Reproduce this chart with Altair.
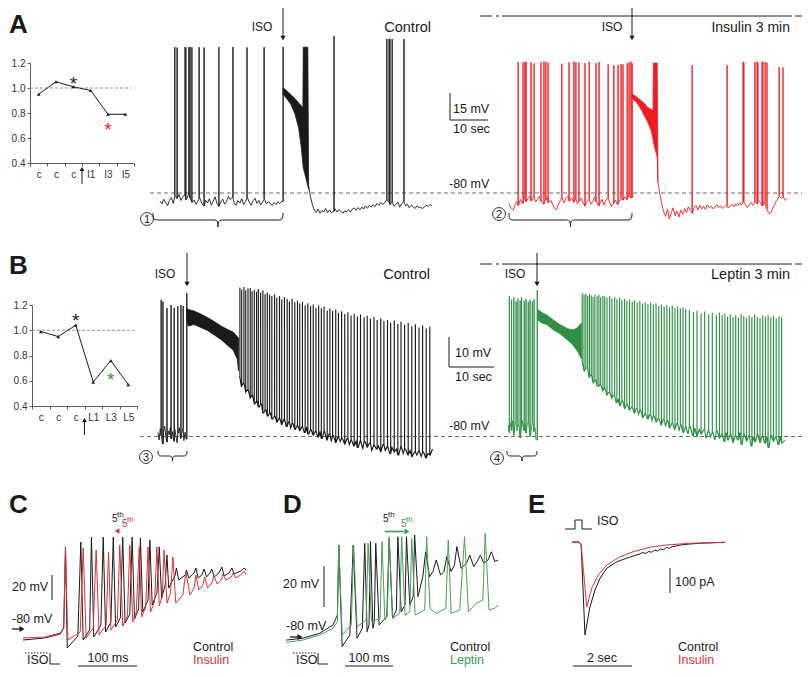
import altair as alt
import numpy as np
import pandas as pd

OX, OY = 8, 8
W, H = 794, 661
FONT = "Liberation Sans"
INK = "#1a1a1a"
RED = "#ee1d23"
RED_C = "#d8343c"
GREEN = "#2e8f45"
GREEN_D = "#4a9e5c"
GREEN_T = "#3a9a52"

# ======================= DATA =======================
# --- summary plots (normalised values) ---
sumA_cats = ["c1", "c2", "c3", "I1", "I3", "I5"]
sumA_vals = [0.95, 1.05, 1.01, 0.98, 0.79, 0.79]
starA_cats = ["c3", "I3"]
starA_vals = [1.076, 0.704]
sumB_cats = ["c1", "c2", "c3", "L1", "L3", "L5"]
sumB_vals = [0.99, 0.95, 1.04, 0.59, 0.76, 0.57]
starB_cats = ["c3", "L3"]
starB_vals = [1.113, 0.645]

# --- A, control trace (s, mV) ---
actl_pre = [-84.5, -86.0, -83.5, -85.2, -87.0, -84.1, -82.6, -85.8, -81.5, -83.0,
            -80.8, -84.2, -82.0, -81.2, -83.6, -80.5, -82.8, -85.1, -83.9, -86.3,
            -84.4, -82.9, -85.7, -87.2, -84.0, -85.5, -83.2, -86.8, -84.6, -82.1,
            -85.9, -87.4, -85.0, -83.4, -86.2, -84.8, -81.9, -83.7, -82.4, -85.3,
            -86.9, -84.2, -85.6, -83.1, -86.5, -84.7, -82.6, -85.2, -86.8, -84.3,
            -82.9, -85.8, -84.1, -86.6, -85.0, -83.5, -86.1, -84.9, -85.7, -87.0,
            -85.3, -86.4, -84.8, -85.9, -84.6]
actl_pre_spk_t = [3.9, 4.5, 6.6, 6.8, 7.6, 7.9, 8.4, 10.3, 11.6, 15.5, 19.2, 22.9, 27.4, 32.4]
actl_pre_spk_v = [1.0, 0.8, 1.1, 0.9, 1.0, 1.1, 0.9, 1.0, 0.8, 1.0, 1.1, 0.9, 1.0, 1.2]
actl_band_t = [32.4, 33.5, 34.5, 35.5, 36.5, 37.2, 37.6, 37.7, 38.9, 39.1]
actl_band_hi = [-21.5, -23.5, -25.5, -27.5, -30.0, -31.5, -33.0, 1.0, 1.0, -72.0]
actl_band_lo = [-25.0, -28.0, -31.0, -36.0, -44.0, -55.0, -64.0, -66.0, -76.0, -78.0]
actl_post = [-76.0, -82.0, -86.5, -89.5, -90.8, -88.9, -91.2, -89.7, -90.5, -88.6,
             -90.9, -89.4, -91.0, -90.2, -88.8, -90.6, -89.3, -90.1, -91.3, -89.9,
             -90.4, -89.2, -90.7, -89.0, -88.3, -89.6, -88.1, -89.4, -87.8, -88.9,
             -87.2, -88.5, -86.9, -87.8, -86.4, -87.6, -85.8, -86.9, -85.2, -86.6,
             -85.5, -83.9, -84.8, -86.3, -85.0, -87.4, -86.2, -85.1, -87.9, -86.0,
             -84.7, -87.1, -86.3, -88.2, -86.8, -87.5, -88.6, -87.3, -88.0, -87.9,
             -88.7, -87.6, -86.9, -87.4, -86.5, -87.0]
actl_post_spk_t = [45.8, 59.7, 60.3, 60.5, 61.1, 64.2]
actl_post_spk_v = [7.2, 5.6, 5.4, 5.8, 5.5, 5.6]

# --- A, insulin trace ---
ains_pre = [-86.0, -88.5, -89.6, -87.2, -84.8, -86.9, -83.5, -85.7, -82.4, -84.9,
            -83.1, -81.6, -84.3, -82.2, -85.0, -83.4, -81.9, -84.6, -86.1, -83.8,
            -82.5, -85.3, -84.0, -86.6, -88.7, -89.3, -86.4, -84.2, -82.7, -85.5,
            -83.0, -81.8, -84.4, -82.6, -85.1, -83.3, -86.0, -84.5, -82.9, -85.6,
            -87.3, -85.0, -83.7, -86.2, -84.8, -82.3, -84.9, -87.0, -85.4, -83.6,
            -86.7, -84.1, -82.8, -85.2, -87.5, -85.7, -83.9, -86.3, -84.6, -82.5,
            -84.0, -82.1, -83.6, -81.4, -82.7]
ains_pre_spk_t = [2.4, 3.7, 4.2, 4.5, 5.8, 6.6, 8.4, 9.2, 9.7, 10.3, 13.9, 15.8, 17.1, 17.6,
                  18.4, 20.0, 21.1, 22.9, 23.7, 26.1, 27.6, 28.7, 29.5, 30.0, 31.1, 31.6, 32.1, 32.4]
ains_pre_spk_v = [-7.2, -7.5, -7.0, -7.3, -7.2, -8.0, -7.4, -7.0, -7.2, -7.6, -8.2, -7.4, -7.1, -7.3,
                  -7.5, -7.8, -7.2, -7.9, -7.3, -8.5, -9.0, -8.8, -8.3, -8.6, -7.9, -7.4, -7.0, -8.0]
ains_band_t = [32.4, 33.5, 34.5, 35.5, 36.5, 37.4, 37.9, 38.0, 39.0, 39.2]
ains_band_hi = [-25.0, -26.5, -28.3, -30.0, -32.5, -33.5, -34.0, -7.8, -7.8, -70.0]
ains_band_lo = [-27.5, -29.5, -32.5, -36.5, -40.5, -45.0, -50.0, -52.0, -60.0, -74.0]
ains_post = [-74.0, -80.5, -86.0, -90.5, -93.0, -89.0, -94.5, -91.0, -88.2, -92.6,
             -90.1, -93.4, -89.6, -91.8, -88.7, -90.9, -87.6, -89.8, -91.2, -88.4,
             -87.0, -89.5, -86.8, -88.9, -87.4, -89.1, -86.5, -88.2, -87.3, -88.8,
             -87.9, -86.4, -88.0, -87.2, -88.6, -87.7, -86.9, -88.3, -87.5, -86.2,
             -87.8, -85.9, -87.0, -85.4, -86.8, -84.9, -86.3, -88.1, -86.7, -85.3,
             -86.9, -84.6, -86.1, -84.2, -85.7, -87.0, -85.5, -88.6, -90.8, -91.5,
             -89.7, -87.2, -85.0, -83.4, -81.9, -83.0, -82.2, -84.1, -83.0]
ains_post_spk_t = [48.2, 57.4, 61.6, 61.8, 64.7, 65.3, 65.5, 66.6, 66.8, 67.4, 67.9, 71.1, 72.1]
ains_post_spk_v = [-8.9, -9.0, -7.2, -7.4, -7.3, -7.0, -7.5, -7.2, -7.1, -7.4, -7.6, -10.0, -10.3]

# --- B, control trace ---
bctl_pre = [-78.5, -81.0, -77.2, -79.6, -82.3, -78.0, -76.4, -80.1, -81.7, -77.9, -79.3, -76.8, -80.6,
            -78.2, -81.4, -77.5, -79.8, -82.0, -78.7, -76.9, -80.4, -79.0, -77.3, -81.2, -78.4, -80.7]
bctl_pre_spk_t = [0.7, 1.1, 2.0, 2.9, 3.6, 4.4, 5.1, 5.6, 6.4]
bctl_pre_spk_v = [-34.3, -34.9, -37.0, -36.0, -37.0, -36.4, -36.0, -36.4, -32.0]
bctl_band_t = [6.4, 6.7, 8.0, 9.5, 11.0, 12.5, 14.0, 15.5, 16.7, 17.6, 17.9]
bctl_band_hi = [-37.0, -37.5, -38.0, -39.0, -40.2, -41.5, -43.0, -44.2, -45.0, -46.5, -47.0]
bctl_band_lo = [-41.0, -43.0, -42.5, -43.5, -44.5, -46.0, -47.5, -49.5, -51.0, -54.0, -58.0]
bctl_dense = [-60.0, -63.0, -62.0, -65.0, -64.0, -67.0, -66.0, -69.0,
              -68.0, -70.0, -69.0, -72.0, -71.0, -73.0, -72.0, -74.0,
              -73.0, -75.0, -73.5, -76.0, -74.0, -76.5, -75.0, -77.0,
              -75.5, -77.5, -76.0, -78.0, -76.5, -78.5, -77.0, -79.0,
              -77.5, -79.5, -78.0, -80.0, -78.5, -80.5, -78.0, -81.0,
              -79.0, -81.5, -79.5, -82.0, -80.0, -81.5, -80.5, -82.5,
              -80.5, -82.5, -81.0, -83.0, -81.5, -83.5, -81.0, -84.0,
              -81.5, -83.5, -82.0, -84.5, -82.5, -84.0, -83.0, -85.0,
              -82.5, -84.5, -83.0, -85.5, -83.5, -85.0, -84.0, -86.0,
              -83.0, -85.5, -84.0, -86.0, -84.5, -86.5, -85.0, -86.0,
              -84.5, -86.5, -85.0, -87.0, -85.5, -86.0, -84.0]
bctl_spk_t = [18.2, 18.6, 19.1, 19.5, 20.0, 20.5, 20.9, 21.4, 21.9, 22.3, 22.8, 23.3, 23.8, 24.3, 24.8,
              25.3, 25.9, 26.4, 27.0, 27.5, 28.1, 28.7, 29.2, 29.8, 30.4,
              31.0, 31.5, 32.1, 32.7, 33.3, 33.9, 34.5, 35.1, 35.7, 36.3, 36.9, 37.6, 38.2, 38.8, 39.5,
              40.1, 40.8, 41.5, 42.2, 42.9, 43.6, 44.3, 45.0, 45.8, 46.5, 47.2, 48.0, 48.7, 49.5, 50.2,
              51.0, 51.7, 52.5, 53.3, 54.0, 54.8, 55.6, 56.4, 57.2, 58.0, 58.8, 59.6, 60.4]
bctl_spk_v = [-30.2, -30.8, -30.0, -31.1, -30.5, -30.3, -31.4, -30.9, -31.6, -30.7, -31.9, -31.2, -32.4, -31.8, -32.6,
              -33.0, -32.5, -33.6, -33.1, -34.2, -33.4, -34.0, -34.8, -33.9, -35.1,
              -34.6, -35.5, -35.0, -36.1, -35.4, -36.4, -35.8, -36.9, -36.2, -37.1, -36.6, -37.8, -37.2, -38.0, -37.5,
              -38.6, -38.1, -39.0, -38.4, -39.5, -38.9, -39.8, -39.2, -40.1, -39.6, -40.5, -40.0, -41.0, -40.4, -41.3,
              -41.0, -41.8, -41.2, -42.3, -41.6, -42.6, -42.0, -43.1, -42.4, -43.5, -42.8, -43.8, -43.2]

# --- B, leptin trace ---
blep_pre = [-76.0, -78.5, -75.2, -77.8, -74.6, -79.4, -76.3, -74.9, -78.0, -75.5, -77.2, -80.3, -76.8,
            -74.5, -77.9, -75.8, -78.7, -76.1, -74.8, -77.5, -79.8, -76.4, -75.1, -78.2, -76.9, -81.0]
blep_pre_spk_t = [0.3, 0.8, 1.3, 1.8, 2.2, 2.7, 3.0, 3.6, 4.0, 4.5, 4.9, 5.4, 5.8, 6.5]
blep_pre_spk_v = [-33.0, -34.2, -33.5, -34.8, -33.9, -34.5, -33.3, -34.6, -34.0, -35.0, -34.3, -34.8, -34.1, -31.0]
blep_band_t = [6.6, 7.5, 8.6, 10.1, 11.5, 12.5, 13.5, 14.5, 15.5, 16.3]
blep_band_hi = [-37.5, -38.5, -39.3, -41.0, -42.5, -43.3, -44.0, -44.3, -43.5, -42.0]
blep_band_lo = [-41.0, -42.0, -42.5, -44.3, -45.5, -46.8, -48.0, -49.5, -51.5, -54.0]
blep_dense = [-55.0, -58.0, -57.0, -60.0, -59.0, -62.0, -61.0, -63.0,
              -62.5, -64.5, -63.5, -66.0, -65.0, -67.0, -66.0, -68.5,
              -67.5, -69.5, -68.0, -70.5, -69.0, -71.0, -70.0, -72.0,
              -70.5, -72.5, -71.0, -73.5, -72.0, -74.0, -72.5, -74.5,
              -73.0, -75.0, -73.5, -76.0, -74.0, -76.5, -74.5, -77.0,
              -75.0, -77.5, -75.5, -78.0, -76.0, -78.5, -76.5, -79.0,
              -76.5, -79.5, -77.0, -80.0, -77.5, -79.0, -77.5, -80.5,
              -78.0, -80.0, -78.5, -81.0, -78.0, -80.5, -79.0, -81.5,
              -78.5, -81.0, -79.0, -82.0, -79.5, -81.0, -78.5, -82.5,
              -79.0, -81.5, -79.5, -83.0, -80.0, -81.5, -79.0, -82.0,
              -79.5, -82.0, -80.0, -83.5, -79.5, -81.5, -80.0, -82.5,
              -80.0, -82.0, -81.0]
blep_spk_t = [16.5, 16.9, 17.3, 17.7, 18.1, 18.5, 18.9, 19.3, 19.8, 20.2, 20.6, 21.1, 21.5, 22.0,
              22.6, 23.1, 23.7, 24.2, 24.8, 25.3, 25.9, 26.4, 27.0, 27.6, 28.1, 28.7, 29.3, 29.9, 30.5,
              31.1, 31.7, 32.3, 32.9, 33.5, 34.1, 34.7, 35.3, 35.9, 36.5, 37.1, 37.7, 38.3, 38.9, 39.5,
              40.3, 41.2, 42.0, 42.9, 43.7, 44.6, 45.4, 46.3,
              47.0, 47.6, 48.2, 48.8, 49.4, 50.0, 50.6, 51.2, 51.8, 52.4, 53.0, 53.6, 54.2, 54.8, 55.4,
              56.0, 56.6, 57.2, 57.8, 58.4, 59.0, 59.6, 60.2, 60.8]
blep_spk_v = [-32.0, -32.6, -32.2, -33.0, -32.4, -32.8, -33.3, -32.5, -33.1, -32.7, -33.4, -32.9, -33.2, -33.6,
              -33.0, -33.8, -33.3, -34.1, -33.6, -34.4, -33.9, -34.6, -34.2, -34.9, -34.4, -35.2, -34.7, -35.5, -35.0,
              -35.7, -35.2, -36.0, -35.5, -36.3, -35.8, -36.5, -36.0, -36.8, -36.2, -37.0, -36.5, -37.2, -36.8, -37.4,
              -37.6, -38.3, -37.9, -38.8, -38.2, -39.1, -38.6, -39.4,
              -38.6, -39.3, -38.9, -39.8, -39.1, -40.0, -39.4, -40.2, -39.0, -39.7, -40.3, -39.5, -40.1, -39.2, -39.9,
              -40.4, -39.6, -40.0, -39.3, -40.2, -39.7, -40.5, -39.8, -40.1]

# --- C (ms, mV) ---
c_ctl_t = [0, 37, 63, 69, 72, 75, 93, 98, 102, 113, 116, 120, 132, 136, 140, 149, 153, 157, 165, 169, 173,
           181, 185, 189, 196, 199, 203, 212, 215, 219, 227, 231, 235, 241, 244, 247, 258, 260, 264, 275,
           277, 281, 290, 293, 297, 303, 307, 311, 317, 320, 324, 332, 337, 341, 349, 354, 358, 369, 375, 378]
c_ctl_v = [-88.8, -87.2, -84, -79.2, -14.4, -95.2, -85.6, -10.4, -88.8, -80.8, -6.4, -86.4, -76.8, -6.4,
           -82.4, -74.4, -6.4, -78.4, -71.2, -6.4, -75.2, -68, -6.4, -72, -64, -7.2, -66.4, -56.8, -8.8,
           -60.8, -51.2, -14.4, -55.2, -44.8, -20.8, -47.2, -36.8, -31.2, -40.8, -36.8, -32.8, -39.2, -35.2,
           -31.2, -39.2, -36.8, -32, -38.4, -35.2, -32, -38.4, -35.2, -30.4, -37.6, -35.2, -31.2, -36, -33.6,
           -31.2, -32.8]
c_ins_t = [0, 37, 63, 69, 72, 76, 97, 102, 107, 119, 124, 129, 141, 145, 149, 160, 164, 169, 177, 181, 186,
           192, 197, 201, 208, 212, 216, 223, 227, 231, 236, 239, 244, 250, 254, 259, 271, 276, 283, 290,
           293, 298, 305, 308, 313, 320, 324, 329, 336, 339, 344, 353, 356, 361, 371, 375, 378]
c_ins_v = [-87.2, -86.4, -83.2, -79.2, -15.2, -88.8, -82.4, -15.2, -87.2, -79.2, -16.8, -84.8, -76.8, -18.4,
           -80.8, -72.8, -12.8, -77.6, -69.6, -12.8, -74.4, -66.4, -14.4, -70.4, -62.4, -14.4, -66.4, -58.4,
           -14.4, -61.6, -53.6, -16.8, -59.2, -51.2, -22.4, -59.2, -52.8, -34.4, -52.8, -47.2, -36.8, -48.8,
           -44.8, -38.4, -47.2, -43.2, -37.6, -44, -40.8, -36, -40.8, -38.4, -35.2, -39.2, -36, -33.6, -36.8]

# --- D (ms, mV) ---
d_ctl_t = [0.7, 35, 70, 98, 107, 110, 117, 133, 140, 148, 159, 164, 169, 173, 176, 181, 184, 187, 194, 210,
           215, 222, 230, 233, 240, 248, 251, 258, 265, 268, 275, 285, 291, 299, 306, 313, 322, 329, 335, 344,
           351, 356, 365, 376, 383, 391, 398, 405, 412, 421, 428, 435, 442]
d_ctl_v = [-81.5, -80.6, -78.2, -74.1, -69.3, -35.1, -84.7, -79, -35.1, -80.6, -75.8, -34.3, -77.4, -74.1,
           -33.5, -75.8, -72.5, -34.3, -74.1, -70.1, -31.9, -70.9, -66.8, -31.1, -67.7, -64.4, -31.1, -64.4,
           -60.3, -30.2, -60.3, -50.6, -38.4, -50.6, -48.1, -42.4, -49.8, -48.1, -40.8, -48.1, -44.9, -35.9,
           -46.5, -44, -40, -45.7, -43.2, -40, -44, -42.4, -38.4, -43.2, -42.4]
d_lep_t = [0.7, 35, 70, 98, 107, 110, 117, 136, 141, 148, 167, 171, 178, 196, 200, 206, 211, 215, 222, 237,
           241, 248, 258, 262, 269, 289, 293, 300, 313, 333, 338, 344, 362, 372, 380, 396, 410, 415, 423, 435, 442]
d_lep_v = [-82.6, -81.5, -79, -75.8, -72.5, -35.1, -79, -74.1, -35.1, -75, -71.7, -34.3, -72.5, -70.9, -33.5,
           -71.7, -69.3, -31.1, -70.9, -68.5, -31.1, -69.3, -67.7, -31.9, -69.3, -66.8, -31.1, -66, -68.5, -66,
           -32.7, -68.5, -66.8, -31.1, -67.7, -63.6, -62, -29.4, -66.8, -66, -64.4]

# --- E (s, pA) ---
e_ctl_t = [0, 0.24, 0.31, 0.44, 0.61, 0.78, 0.95, 1.18, 1.52, 1.85, 2.1, 2.3, 2.4, 2.5, 2.6, 2.7, 2.8, 2.9,
           3.0, 3.1, 3.2, 3.3, 3.4, 3.5, 3.66, 4.0, 4.34, 4.8, 5.19]
e_ctl_v = [0, 0, -12, -372, -259, -192, -145, -105, -79, -65, -55, -48, -42, -46, -38, -41, -33, -36, -28,
           -31, -22, -25, -18, -17, -12, -8, -5, -3, -1]
e_ins_t = [0, 0.24, 0.31, 0.5, 0.67, 0.89, 1.18, 1.63, 2.07, 2.64, 3.21, 4.0, 5.19]
e_ins_v = [-2, 0, -12, -259, -185, -132, -92, -59, -39, -21, -12, -5, -1]

# ======================= HELPERS =======================
ONE = pd.DataFrame({"k": [0]})


def lin_x(px0, ppu, dmax):
    return alt.Scale(domain=[0, dmax], range=[px0 - OX, px0 + dmax * ppu - OX], zero=False, nice=False)


def lin_y(vref, pyref, ppu, vmin, vmax):
    return alt.Scale(domain=[vmin, vmax],
                     range=[pyref + (vref - vmin) * ppu - OY, pyref - (vmax - vref) * ppu - OY],
                     zero=False, nice=False)


def spiking(t0, dt, base, spk_t, spk_v):
    times = t0 + dt * np.arange(len(base))
    rows = [(float(t), 0, float(v)) for t, v in zip(times, base)]
    for ts, pk in zip(spk_t, spk_v):
        j = int(np.argmin(np.abs(times - ts)))
        b = base[j]
        rows += [(ts, 1, b), (ts, 2, pk), (ts, 3, b)]
    rows.sort(key=lambda r: (r[0], r[1]))
    df = pd.DataFrame(rows, columns=["t", "k", "v"])
    df["i"] = np.arange(len(df))
    return df


def poly(t, v):
    return pd.DataFrame({"t": t, "v": v, "i": np.arange(len(t))})


def line_layer(df, xs, ys, color, width=0.9):
    return alt.Chart(df).mark_line(color=color, strokeWidth=width).encode(
        x=alt.X("t:Q", scale=xs, axis=None), y=alt.Y("v:Q", scale=ys, axis=None), order="i:Q")


def band_layer(t, hi, lo, xs, ys, color):
    df = pd.DataFrame({"t": t, "hi": hi, "lo": lo})
    return alt.Chart(df).mark_area(color=color, opacity=1, stroke=color, strokeWidth=0.8).encode(
        x=alt.X("t:Q", scale=xs, axis=None), y=alt.Y("hi:Q", scale=ys, axis=None), y2="lo:Q")


def txt(s, x, y, size=12.5, color=INK, align="left", weight="normal"):
    return alt.Chart(ONE).mark_text(text=s, fontSize=size, font=FONT, color=color, align=align,
                                    baseline="alphabetic", fontWeight=weight).encode(
        x=alt.value(x - OX), y=alt.value(y - OY))


def seg(x1, y1, x2, y2, color=INK, w=1.0, dash=None):
    kw = dict(color=color, strokeWidth=w)
    if dash:
        kw["strokeDash"] = dash
    return alt.Chart(ONE).mark_rule(**kw).encode(
        x=alt.value(x1 - OX), y=alt.value(y1 - OY), x2=alt.value(x2 - OX), y2=alt.value(y2 - OY))


def sym(x, y, shape, size, color=INK, filled=True, sw=1.0):
    return alt.Chart(ONE).mark_point(shape=shape, size=size, filled=filled, color=color,
                                     strokeWidth=sw, opacity=1).encode(
        x=alt.value(x - OX), y=alt.value(y - OY))


def brace(xa, xb, ytop, ybot, color=INK):
    w = xb - xa
    u = w / 2.0
    hh = (ybot - ytop) / u
    top = -hh / 2
    mid = top + hh * 0.5
    tip = hh / 2
    k = min(0.35, 6.0 / u)

    def f(v):
        return f"{v:.4f}"
    p = (f"M -1 {f(top)} C -1 {f(mid)} {f(-1 + k * 0.2)} {f(mid)} {f(-1 + k)} {f(mid)} "
         f"L {f(-k)} {f(mid)} C {f(-k * 0.2)} {f(mid)} 0 {f(mid)} 0 {f(tip)} "
         f"C 0 {f(mid)} {f(k * 0.2)} {f(mid)} {f(k)} {f(mid)} "
         f"L {f(1 - k)} {f(mid)} C {f(1 - k * 0.2)} {f(mid)} 1 {f(mid)} 1 {f(top)}")
    return alt.Chart(ONE).mark_point(shape=p, size=w * w, filled=False, color=color,
                                     strokeWidth=1, opacity=1).encode(
        x=alt.value((xa + xb) / 2 - OX), y=alt.value((ytop + ybot) / 2 - OY))


def circ(x, y, s):
    return [sym(x, y, "circle", 165, INK, filled=False, sw=0.9), txt(s, x, y + 4, 11, align="center")]


def summary(cats, vals, scats, svals, scolors, x0, x1, ytop, ybot):
    xs = alt.Scale(type="band", domain=cats, range=[x0 - OX, x1 - OX], paddingInner=0, paddingOuter=0)
    ys = alt.Scale(domain=[0.4, 1.2], range=[ybot - OY, ytop - OY], zero=False, nice=False)
    common = dict(grid=False, title=None, tickSize=3, labelFontSize=10, labelFont=FONT,
                  labelColor="#333333", domainColor="#333333", tickColor="#333333",
                  domainWidth=0.8, tickWidth=0.8)
    xaxis = alt.Axis(orient="bottom", offset=(ybot - OY) - H, tickBand="extent", labelAngle=0,
                     labelPadding=3,
                     labelExpr="substring(datum.label,0,1)=='c' ? 'c' : datum.label", **common)
    yaxis = alt.Axis(orient="left", offset=-(x0 - OX), values=[0.4, 0.6, 0.8, 1.0, 1.2],
                     format=".1f", labelPadding=2, **common)
    df = pd.DataFrame({"cat": cats, "val": vals})
    out = []
    out.append(alt.Chart(pd.DataFrame({"val": [1.0]})).mark_rule(
        color="#888888", strokeDash=[3, 2], strokeWidth=0.9).encode(
        y=alt.Y("val:Q", scale=ys, axis=yaxis), x=alt.value(x0 - OX), x2=alt.value(x1 - 3 - OX)))
    out.append(alt.Chart(df).mark_line(color=INK, strokeWidth=1).encode(
        x=alt.X("cat:N", scale=xs, sort=None, axis=xaxis),
        y=alt.Y("val:Q", scale=ys, axis=None)))
    out.append(alt.Chart(df).mark_point(shape="triangle-up", size=14, filled=True, color=INK, opacity=1).encode(
        x=alt.X("cat:N", scale=xs, sort=None, axis=None),
        y=alt.Y("val:Q", scale=ys, axis=None)))
    for c, v, col in zip(scats, svals, scolors):
        sdf = pd.DataFrame({"cat": [c], "val": [v]})
        out.append(alt.Chart(sdf).mark_text(text="*", fontSize=19, font=FONT, color=col, dy=5,
                                            baseline="middle", align="center").encode(
            x=alt.X("cat:N", scale=xs, sort=None, axis=None),
            y=alt.Y("val:Q", scale=ys, axis=None)))
    return out


layers = []

# ======================= PANEL A =======================
layers += summary(sumA_cats, sumA_vals, starA_cats, starA_vals, [INK, RED], 30, 134, 63, 163)
layers += [seg(82, 184, 82, 171), sym(82, 169, "triangle-up", 24)]

xA1 = lin_x(160, 3.8, 72)
xA2 = lin_x(509, 3.8, 75)
yA = lin_y(-80, 193, 1.8, -100, 10)
layers.append(seg(150, 193, 802, 193, color="#444444", w=0.8, dash=[4, 3]))
layers.append(line_layer(spiking(0, 0.5, actl_pre, actl_pre_spk_t, actl_pre_spk_v), xA1, yA, INK))
layers.append(band_layer(actl_band_t, actl_band_hi, actl_band_lo, xA1, yA, INK))
layers.append(line_layer(spiking(39.1, 0.5, actl_post, actl_post_spk_t, actl_post_spk_v), xA1, yA, INK))
layers.append(line_layer(spiking(0, 0.5, ains_pre, ains_pre_spk_t, ains_pre_spk_v), xA2, yA, RED))
layers.append(band_layer(ains_band_t, ains_band_hi, ains_band_lo, xA2, yA, RED))
layers.append(line_layer(spiking(39.2, 0.5, ains_post, ains_post_spk_t, ains_post_spk_v), xA2, yA, RED))

layers += [
    txt("A", 9, 33, 26, weight="bold"),
    seg(283, 4, 283, 36), sym(283, 38, "triangle-down", 28),
    txt("ISO", 262, 31, 12, align="center"),
    txt("Control", 431, 32, 14.5, align="right"),
    brace(153, 283, 213, 227),
    txt("-80 mV", 449, 188),
    seg(450, 93, 450, 120), seg(450, 120, 488, 120),
    txt("15 mV", 453, 113), txt("10 sec", 453, 133),
    seg(480, 16, 492, 16), seg(496, 16, 499, 16), seg(502, 16, 792, 16), seg(795, 16, 805, 16),
    seg(632, 4, 632, 36), sym(632, 38, "triangle-down", 28),
    txt("ISO", 612, 31, 12, align="center"),
    txt("Insulin 3 min", 790, 32, 14, align="right"),
    brace(509, 632, 213, 227),
]
layers += circ(147, 219, "1") + circ(499, 214, "2")

# ======================= PANEL B =======================
layers += summary(sumB_cats, sumB_vals, starB_cats, starB_vals, [INK, GREEN], 32, 137, 305, 406)
layers += [seg(84.5, 435, 84.5, 422), sym(84.5, 420, "triangle-up", 24)]

xB1 = lin_x(158, 4.5, 62)
xB2 = lin_x(508, 4.5, 62)
yB = lin_y(-80, 437, 3.0, -95, -25)
layers.append(seg(140, 436.5, 802, 436.5, color="#444444", w=0.8, dash=[4, 3]))
layers.append(line_layer(spiking(0, 0.25, bctl_pre, bctl_pre_spk_t, bctl_pre_spk_v), xB1, yB, INK))
layers.append(band_layer(bctl_band_t, bctl_band_hi, bctl_band_lo, xB1, yB, INK))
layers.append(line_layer(spiking(18.0, 0.5, bctl_dense, bctl_spk_t, bctl_spk_v), xB1, yB, INK, 1.15))
layers.append(line_layer(spiking(0, 0.25, blep_pre, blep_pre_spk_t, blep_pre_spk_v), xB2, yB, GREEN))
layers.append(band_layer(blep_band_t, blep_band_hi, blep_band_lo, xB2, yB, GREEN))
layers.append(line_layer(spiking(16.5, 0.5, blep_dense, blep_spk_t, blep_spk_v), xB2, yB, GREEN, 1.15))

layers += [
    txt("B", 9, 274, 26, weight="bold"),
    seg(187, 253, 187, 282), sym(187, 284, "triangle-down", 28),
    txt("ISO", 165, 278, 12, align="center"),
    txt("Control", 430, 279, 14.5, align="right"),
    brace(158, 187, 451, 461),
    seg(449, 337, 449, 367), seg(449, 367, 494, 367),
    txt("10 mV", 455, 357), txt("10 sec", 455, 381),
    txt("-80 mV", 449, 430),
    seg(480, 264, 492, 264), seg(496, 264, 499, 264), seg(502, 264, 792, 264), seg(795, 264, 805, 264),
    seg(537, 253, 537, 282), sym(537, 284, "triangle-down", 28),
    txt("ISO", 515, 278, 12, align="center"),
    txt("Leptin 3 min", 790, 279, 14.5, align="right"),
    brace(507, 537, 451, 461),
]
layers += circ(146, 457, "3") + circ(497, 458, "4")

# ======================= PANEL C =======================
xC = lin_x(23, 0.59, 400)
yC = lin_y(-80, 629, 1.25, -100, 0)
layers.append(line_layer(poly(c_ctl_t, c_ctl_v), xC, yC, INK, 1.0))
layers.append(line_layer(poly(c_ins_t, c_ins_v), xC, yC, RED_C, 1.0))
layers += [
    txt("C", 9, 513, 26, weight="bold"),
    txt("5", 112, 522, 10), txt("th", 117, 517, 8),
    txt("5", 122, 527, 10, RED_C), txt("th", 127, 522, 8, RED_C),
    sym(117, 531, "triangle-left", 32, RED_C),
    txt("20 mV", 12, 591), seg(52, 575, 52, 600),
    txt("-80 mV", 12, 623), seg(12, 629, 20, 629, w=1.3), sym(22, 629, "triangle-right", 34),
    seg(25, 653, 48, 653, dash=[1.5, 1.5]), seg(50, 653, 50, 664), seg(50, 664, 60, 664),
    txt("ISO", 27, 664),
    seg(78, 666, 137, 666), txt("100 ms", 108, 662, align="center"),
    txt("Control", 193, 651), txt("Insulin", 193, 664, color=RED_C),
]

# ======================= PANEL D =======================
xD = lin_x(286, 0.48, 460)
yD = lin_y(-80, 637, 2.05, -90, -20)
layers.append(line_layer(poly(d_ctl_t, d_ctl_v), xD, yD, INK, 1.0))
layers.append(line_layer(poly(d_lep_t, d_lep_v), xD, yD, GREEN_D, 1.0))
layers += [
    txt("D", 283, 513, 26, weight="bold"),
    txt("5", 383, 522, 10), txt("th", 388, 517, 8),
    txt("5", 401, 527, 10, GREEN_T), txt("th", 406, 522, 8, GREEN_T),
    seg(385, 531.5, 404, 531.5, color=GREEN_T, w=1.6), sym(407, 531.5, "triangle-right", 34, GREEN_T),
    txt("20 mV", 283, 588), seg(324, 566, 324, 607),
    txt("-80 mV", 286, 630), seg(290, 637, 298, 637, w=1.3), sym(300, 637, "triangle-right", 34),
    seg(293, 653, 316, 653, dash=[1.5, 1.5]), seg(318, 653, 318, 664), seg(318, 664, 328, 664),
    txt("ISO", 296, 664),
    seg(345, 666, 393, 666), txt("100 ms", 369, 662, align="center"),
    txt("Control", 450, 651), txt("Leptin", 450, 664, color=GREEN_T),
]

# ======================= PANEL E =======================
xE = lin_x(572, 29.5, 5.5)
yE = lin_y(0, 542, 0.25, -400, 20)
layers.append(line_layer(poly(e_ctl_t, e_ctl_v), xE, yE, INK, 1.0))
layers.append(line_layer(poly(e_ins_t, e_ins_v), xE, yE, RED_C, 1.0))
layers += [
    txt("E", 528, 513, 26, weight="bold"),
    seg(565, 529, 575, 529), seg(575, 529, 575, 520), seg(575, 520, 582, 520),
    seg(582, 520, 582, 529), seg(582, 529, 592, 529),
    txt("ISO", 597, 525),
    seg(670, 568, 670, 593), txt("100 pA", 675, 586),
    seg(573, 666, 632, 666), txt("2 sec", 602, 662, align="center"),
    txt("Control", 678, 651), txt("Insulin", 678, 664, color=RED_C),
]

chart = alt.layer(*layers).resolve_scale(x="independent", y="independent").properties(
    width=W, height=H, autosize=alt.AutoSizeParams(type="none"), padding=0
).configure_view(stroke=None)

chart.save("out.html", embed_options={"renderer": "svg", "actions": False})
